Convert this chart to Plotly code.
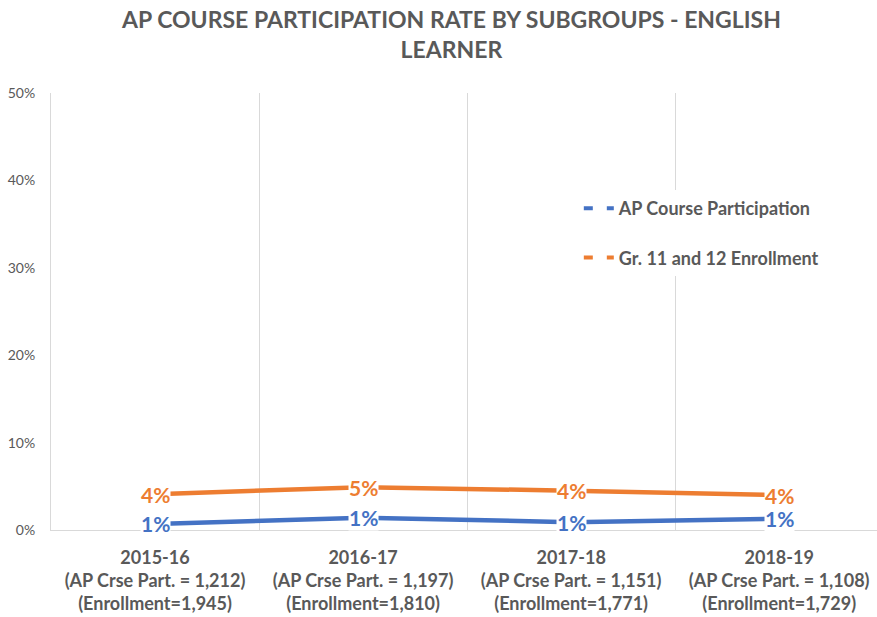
import plotly.graph_objects as go

# School years and the counts shown under each year
years = ["2015-16", "2016-17", "2017-18", "2018-19"]
ap_counts = ["1,212", "1,197", "1,151", "1,108"]
enrollments = ["1,945", "1,810", "1,771", "1,729"]

# Rates for the English Learner subgroup (fraction of total)
ap_participation = [0.007, 0.014, 0.009, 0.013]
gr11_12_enrollment = [0.041, 0.049, 0.045, 0.040]

series_names = ["AP Course Participation", "Gr. 11 and 12 Enrollment"]
series_values = [ap_participation, gr11_12_enrollment]
series_colors = ["#4472C4", "#ED7D31"]

GRAY = "#595959"
FONT = "Lato"

tick_text = [
    f"{y}<br>(AP Crse Part. = {a})<br>(Enrollment={e})"
    for y, a, e in zip(years, ap_counts, enrollments)
]

fig = go.Figure()

for name, vals, color in zip(series_names, series_values, series_colors):
    # the solid data line
    fig.add_trace(go.Scatter(
        x=years, y=vals, mode="lines", name=name,
        line=dict(color=color, width=4.5),
        showlegend=False, hoverinfo="skip",
    ))
    # dashed key used only in the legend
    fig.add_trace(go.Scatter(
        x=[None], y=[None], mode="lines", name=name,
        line=dict(color=color, width=4, dash="9px,14px"),
        legendgroup=name, showlegend=True,
    ))
    # value labels on a white box that sits over the line
    for xv, yv in zip(years, vals):
        fig.add_annotation(
            x=xv, y=yv, xref="x", yref="y",
            text=f"{yv:.0%}", showarrow=False,
            font=dict(family=FONT, size=21, color=color, weight="bold"),
            bgcolor="white", borderpad=0,
        )

# chart title
fig.add_annotation(
    text="AP COURSE PARTICIPATION RATE BY SUBGROUPS - ENGLISH<br>LEARNER",
    xref="paper", yref="paper", x=0.484, y=1.135,
    xanchor="center", yanchor="middle", showarrow=False,
    font=dict(family=FONT, size=23, color=GRAY, weight="bold"),
)

fig.update_layout(
    width=877, height=617,
    paper_bgcolor="white", plot_bgcolor="white",
    margin=dict(l=51, r=0, t=93, b=87),
    legend=dict(
        x=0.639, y=0.778, xanchor="left", yanchor="top",
        bgcolor="white", tracegroupgap=23,
        traceorder="grouped",
        font=dict(family=FONT, size=18, color=GRAY, weight="bold"),
    ),
    showlegend=True,
)

fig.update_xaxes(
    type="category", range=[-0.5, 3.47],
    tickvals=years, ticktext=tick_text,
    tickson="boundaries", ticks="",
    showgrid=True, gridcolor="#D9D9D9", gridwidth=1,
    showline=True, linecolor="#D9D9D9", linewidth=1,
    ticklabelstandoff=11,
    tickfont=dict(family=FONT, size=18, color=GRAY, weight="bold"),
    fixedrange=True,
)
fig.update_yaxes(
    range=[0, 0.5], dtick=0.1, tickformat=".0%",
    showgrid=False, zeroline=False,
    showline=True, linecolor="#D9D9D9", linewidth=1,
    ticks="", ticklabelstandoff=12,
    tickfont=dict(family=FONT, size=14, color=GRAY),
    fixedrange=True,
)

fig.write_html("out.html")
